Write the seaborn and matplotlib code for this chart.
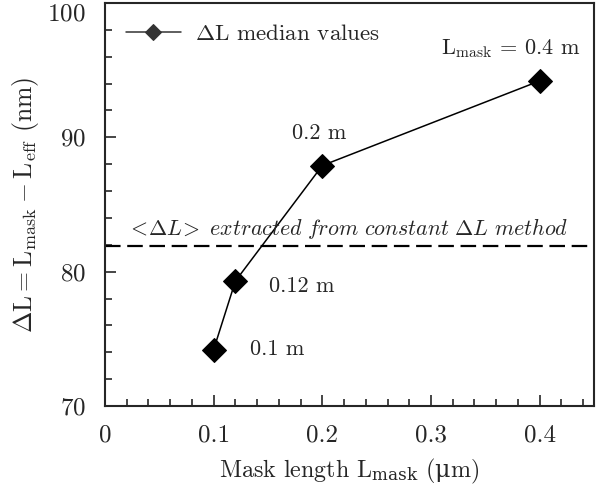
import matplotlib
matplotlib.use("Agg")
import matplotlib.pyplot as plt
import seaborn as sns
import pandas as pd
from matplotlib.ticker import MultipleLocator, FixedLocator, FixedFormatter

# ---- data ----
mask_length = [0.1, 0.12, 0.2, 0.4]
delta_L = [74.2, 79.3, 87.9, 94.2]
point_labels = ["0.1 m", "0.12 m", "0.2 m", r"L$_{\mathrm{mask}}$ = 0.4 m"]
label_pos_x = [0.133, 0.151, 0.172, 0.309]
label_pos_y = [74.2, 78.9, 90.3, 96.6]
mean_delta_L = 81.9
x_ticks = [0, 0.1, 0.2, 0.3, 0.4]
x_tick_labels = ["0", "0.1", "0.2", "0.3", "0.4"]
y_ticks = [70, 80, 90, 100]

sns.set_style("ticks")
plt.rcParams["font.family"] = ["cmr10", "DejaVu Serif"]
plt.rcParams["mathtext.fontset"] = "cm"
plt.rcParams["axes.formatter.use_mathtext"] = True

df = pd.DataFrame({"x": mask_length, "y": delta_L})

fig = plt.figure(figsize=(6.02, 4.91), dpi=100)
ax = fig.add_axes([0.1744, 0.1731, 0.8123, 0.8208])

sns.lineplot(data=df, x="x", y="y", ax=ax, color="black", linewidth=1.1,
             marker="D", markersize=12, markeredgecolor="black",
             label=r"$\Delta$L median values")

ax.axhline(mean_delta_L, color="black", linewidth=1.6, dashes=(7, 3))

for lx, ly, t in zip(label_pos_x, label_pos_y, point_labels):
    ax.text(lx, ly, t, fontsize=16, va="center", ha="left")

ax.text(0.020, 83.25,
        r"$<\!\mathit{\Delta L}\!>\ \mathit{extracted\ from\ constant}\ \mathit{\Delta L}\ \mathit{method}$",
        fontsize=15.8, va="center", ha="left")

ax.set_xlim(0, 0.45)
ax.set_ylim(70, 100)
ax.xaxis.set_major_locator(FixedLocator(x_ticks))
ax.xaxis.set_major_formatter(FixedFormatter(x_tick_labels))
ax.xaxis.set_minor_locator(MultipleLocator(0.02))
ax.yaxis.set_major_locator(FixedLocator(y_ticks))
ax.yaxis.set_minor_locator(MultipleLocator(2))

ax.tick_params(which="both", direction="in", top=False, right=False,
               width=1.2, labelsize=18)
ax.tick_params(axis="x", pad=13)
ax.tick_params(axis="y", pad=14)
ax.tick_params(which="major", length=8)
ax.tick_params(which="minor", length=5)
for s in ax.spines.values():
    s.set_linewidth(1.5)
    s.set_visible(True)

ax.set_xlabel(r"Mask length L$_{\mathrm{mask}}$ ($\mathrm{\mu}$m)", fontsize=17.3,
              labelpad=8, math_fontfamily="dejavuserif")
ax.set_ylabel(r"$\Delta\mathrm{L} = \mathrm{L}_{\mathrm{mask}} - \mathrm{L}_{\mathrm{eff}}$ (nm)",
              fontsize=18.5, labelpad=4)

leg = ax.legend(loc="upper left", frameon=False, fontsize=16.6, handlelength=2.4,
                borderaxespad=0.5, handletextpad=0.6)
for h in leg.legend_handles:
    h.set_markersize(8.5)
    h.set_markerfacecolor("#333333")
    h.set_markeredgecolor("#333333")
    h.set_color("#333333")

fig.canvas.draw()
ylabels = ax.get_yticklabels()
ylabels[-1].set_va("top")

fig.savefig("out.png", dpi=100)
